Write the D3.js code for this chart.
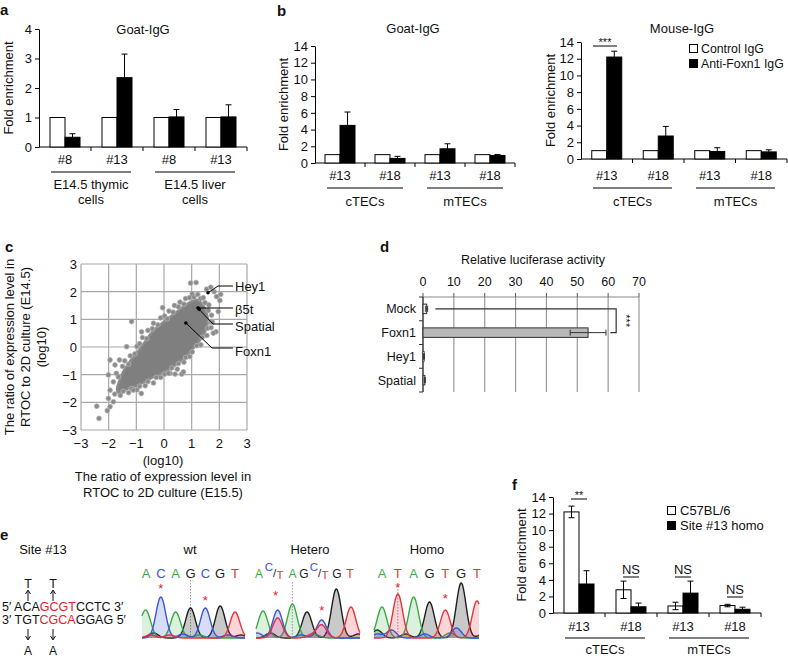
<!DOCTYPE html>
<html><head><meta charset="utf-8">
<script src="https://cdn.jsdelivr.net/npm/d3@7"></script>
<style>body{margin:0;background:#fff}</style>
</head><body><svg id="c" width="788" height="659" xmlns="http://www.w3.org/2000/svg"></svg>
<script>
// ---------------- DATA ----------------
// Panel a
const aCategories = ["#8", "#13", "#8", "#13"];
const aGroups = [["E14.5 thymic", "cells"], ["E14.5 liver", "cells"]];
const aControl = [1, 1, 1, 1];
const aFoxn1 = [0.33, 2.35, 1.02, 1.02];
const aFoxn1Err = [0.12, 0.8, 0.25, 0.41];
const aTicks = [0, 1, 2, 3, 4];
// Panel b
const bCategories = ["#13", "#18", "#13", "#18"];
const bGroups = [["cTECs"], ["mTECs"]];
const bGoatControl = [1, 1, 1, 1];
const bGoatFoxn1 = [4.5, 0.55, 1.7, 0.9];
const bGoatFoxn1Err = [1.6, 0.25, 0.6, 0.12];
const bMouseControl = [1, 1, 1, 1];
const bMouseFoxn1 = [12.2, 2.75, 0.9, 0.85];
const bMouseFoxn1Err = [0.7, 1.15, 0.45, 0.25];
const bTicks = [0, 2, 4, 6, 8, 10, 12, 14];
const bLegend = ["Control IgG", "Anti-Foxn1 IgG"];
// Panel c
const cTicks = [-3, -2, -1, 0, 1, 2, 3];
const cCloudOutline = [[-1.7,-1.55],[-1.6,-1.2],[-1.45,-0.85],[-1.25,-0.55],[-1.0,-0.25],[-0.75,0.1],[-0.5,0.45],[-0.25,0.72],[0.05,0.95],[0.35,1.18],[0.65,1.42],[0.95,1.62],[1.2,1.7],[1.42,1.5],[1.55,1.2],[1.58,0.85],[1.48,0.55],[1.3,0.25],[1.05,-0.05],[0.78,-0.35],[0.48,-0.6],[0.18,-0.82],[-0.15,-0.98],[-0.45,-1.12],[-0.75,-1.28],[-1.05,-1.42],[-1.35,-1.52],[-1.6,-1.68]];
const cPoints = [
 [-1.72,-0.95],[-1.5,-0.7],[-1.42,-0.5],[-1.28,-0.62],[-1.22,-0.32],[-1.05,-0.25],[-0.98,0.02],[-0.88,0.12],[-0.78,0.34],[-0.62,0.3],[-0.58,0.6],[-0.42,0.66],[-0.38,0.86],[-0.22,0.8],[-0.12,1.05],[0.02,1.12],[0.12,1.02],[0.18,1.3],[0.33,1.26],[0.38,1.5],[0.52,1.45],[0.58,1.62],[0.72,1.55],[0.78,1.75],[0.92,1.78],[1.02,1.92],[1.08,1.8],[1.22,1.9],[1.32,1.75],[1.42,1.78],[1.48,1.6],[1.62,1.52],[1.6,1.32],[1.72,1.15],
 [1.68,0.9],[1.58,0.68],[1.55,0.42],[1.38,0.35],[1.33,0.08],[1.18,0.05],[1.02,-0.18],[0.93,-0.35],[0.78,-0.38],[0.72,-0.55],[0.52,-0.6],[0.48,-0.8],[0.28,-0.76],[0.22,-0.95],[0.02,-0.98],[-0.12,-1.1],[-0.28,-1.1],[-0.38,-1.3],[-0.58,-1.25],[-0.68,-1.4],[-0.88,-1.42],[-0.98,-1.55],[-1.18,-1.5],[-1.28,-1.65],[-1.48,-1.6],[-1.58,-1.75],[-1.78,-1.7],
 [0.96,2.31],[1.16,2.33],[1.54,2.09],[1.69,2.16],[1.81,2.0],[1.9,1.82],[2.02,1.68],[2.05,1.9],[1.96,1.28],[1.88,0.55],[1.78,0.5],[-1.17,0.92],[-0.81,0.55],[-1.35,0.01],[-1.95,-0.47],[-1.77,-0.65],[-1.61,-0.47],[-2.01,-1.01],[-1.83,-1.26],[-1.65,-1.08],[-1.95,-1.56],[-2.01,-1.86],[-1.83,-1.98],[-1.95,-2.16],[-2.43,-2.14],[-2.35,-2.58],[-2.05,-2.3],[0.4,-0.98],[0.64,-0.98],[-0.82,-1.68],[-1.11,-1.56],[0.16,-0.95],[0.7,-0.9],[-0.05,1.42],[1.75,0.9],[1.7,0.7]
];
const cGenes = ["Hey1", "β5t", "Spatial", "Foxn1"];
const cGeneX = [1.59, 1.23, 1.27, 0.79];
const cGeneY = [1.96, 1.41, 1.36, 0.87];
// Panel d
const dCategories = ["Mock", "Foxn1", "Hey1", "Spatial"];
const dValues = [1.2, 53.5, 0.35, 0.6];
const dErr = [0.3, 5.8, 0.1, 0.15];
const dTicks = [0, 10, 20, 30, 40, 50, 60, 70];
// Panel e
const eSeq5 = ["5′ ACA", "GCGT", "CCTC 3′"];
const eSeq3 = ["3′ TGT", "CGCA", "GGAG 5′"];
const eWtBases = ["A", "C", "A", "G", "C", "G", "T"];
const eHeteroBases = ["A", "C/T", "A", "G", "C/T", "G", "T"];
const eHomoBases = ["A", "T", "A", "G", "T", "G", "T"];
// peaks: [base position, height]
const eWtPeaks = {
  A: [[0, 26], [2, 26], [3.6, 3], [-0.4, 4]],
  C: [[1, 41], [2.5, 4], [4, 30], [5.5, 3]],
  G: [[0.5, 5], [3, 30], [5, 32], [6.4, 3]],
  T: [[0.3, 3], [1.6, 3], [6, 26]]
};
const eHeteroPeaks = {
  A: [[0, 27], [2, 34], [3.5, 4]],
  C: [[1, 28], [4, 18], [-0.4, 5], [2.6, 3]],
  G: [[0.5, 5], [3, 26], [5, 49], [6.5, 4]],
  T: [[1, 20], [4, 13], [6, 31], [3.3, 3]]
};
const eHomoPeaks = {
  A: [[0, 31], [2, 41], [4.3, 5]],
  C: [[0.6, 8], [4.7, 10], [2.7, 4], [-0.3, 4]],
  G: [[-0.3, 8], [3, 36], [1.5, 4], [5, 55], [6.4, 4]],
  T: [[1, 44], [4, 28], [6, 37]]
};
// Panel f
const fCategories = ["#13", "#18", "#13", "#18"];
const fGroups = [["cTECs"], ["mTECs"]];
const fWild = [12.2, 2.8, 0.85, 0.9];
const fWildErr = [0.7, 1.05, 0.45, 0.15];
const fHomo = [3.5, 0.75, 2.4, 0.45];
const fHomoErr = [1.6, 0.45, 1.45, 0.25];
const fSig = ["**", "NS", "NS", "NS"];
const fLegend = ["C57BL/6", "Site #13 homo"];
const fTicks = [0, 2, 4, 6, 8, 10, 12, 14];

// ---------------- DRAWING ----------------
const FONT = '"Liberation Sans", Arial, Helvetica, sans-serif';
const FS = 13;
const svg = d3.select("#c").attr("font-family", FONT);

function txt(g, x, y, s, opt = {}) {
  const t = g.append("text").attr("x", x).attr("y", y).text(s)
    .attr("font-size", opt.size || FS).attr("fill", opt.fill || "#111")
    .attr("text-anchor", opt.anchor || "middle");
  if (opt.weight) t.attr("font-weight", opt.weight);
  if (opt.rotate) t.attr("transform", `rotate(${opt.rotate},${x},${y})`);
  return t;
}

function barPanel(o) {
  const g = svg.append("g");
  const y = d3.scaleLinear().domain([0, o.ticks[o.ticks.length - 1]]).range([o.yb, o.yt]);
  const xb = d3.scaleBand().domain(d3.range(o.cats.length)).range([o.x0, o.x1]);
  const bw = xb.bandwidth();
  const xs = d3.scaleBand().domain(["ctrl", "treat"]).range([bw / 2 - 15, bw / 2 + 15]);
  const ax = g.append("g").attr("transform", `translate(${o.x0},0)`)
    .call(d3.axisLeft(y).tickValues(o.ticks).tickFormat(d3.format("d")).tickSize(4).tickSizeOuter(0).tickPadding(3));
  ax.attr("font-family", FONT).attr("font-size", FS);
  ax.selectAll("text").attr("fill", "#111");
  g.append("line").attr("x1", o.x0).attr("x2", o.x1).attr("y1", y(0)).attr("y2", y(0)).attr("stroke", "#000");
  g.selectAll(".xt").data(d3.range(o.cats.length)).join("line")
    .attr("x1", i => xb(i) + bw).attr("x2", i => xb(i) + bw)
    .attr("y1", y(0)).attr("y2", y(0) + 4).attr("stroke", "#000");
  const series = [["ctrl", o.ctrl, o.ctrlErr, "#fff"], ["treat", o.treat, o.treatErr, "#000"]];
  series.forEach(([k, vals, errs, fill]) => {
    g.selectAll(".b" + k).data(vals).join("rect")
      .attr("x", (d, i) => xb(i) + xs(k)).attr("width", xs.bandwidth())
      .attr("y", d => y(d)).attr("height", d => y(0) - y(d))
      .attr("fill", fill).attr("stroke", "#000").attr("stroke-width", 1);
    vals.forEach((v, i) => {
      const e = errs ? errs[i] : 0;
      if (!e) return;
      const cx = xb(i) + xs(k) + xs.bandwidth() / 2;
      const lo = k === "ctrl" ? v - e : v;
      g.append("line").attr("x1", cx).attr("x2", cx).attr("y1", y(lo)).attr("y2", y(v + e)).attr("stroke", "#000");
      g.append("line").attr("x1", cx - 3).attr("x2", cx + 3).attr("y1", y(v + e)).attr("y2", y(v + e)).attr("stroke", "#000");
      if (k === "ctrl") g.append("line").attr("x1", cx - 3).attr("x2", cx + 3).attr("y1", y(lo)).attr("y2", y(lo)).attr("stroke", "#000");
    });
  });
  g.selectAll(".cl").data(o.cats).join("text")
    .attr("x", (d, i) => xb(i) + bw / 2).attr("y", o.catY).text(d => d)
    .attr("text-anchor", "middle").attr("font-size", FS).attr("fill", "#111");
  o.groups.forEach((lab, gi) => {
    const s = xb(gi * 2), e = xb(gi * 2 + 1) + bw;
    g.append("line").attr("x1", s + 12).attr("x2", e - 12).attr("y1", o.lineY).attr("y2", o.lineY).attr("stroke", "#000");
    lab.forEach((l, li) => txt(g, (s + e) / 2, o.groupY + li * 15, l));
  });
  if (o.title) txt(g, o.titleX, o.titleY, o.title);
  txt(g, o.ylabX, (o.yb + o.yt) / 2, "Fold enrichment", { rotate: -90 });
  return { g, y, xb, xs };
}

// ---- Panel a
txt(svg, 0, 15, "a", { anchor: "start", weight: "bold", size: 15 });
barPanel({ x0: 39, x1: 247, yb: 147, yt: 29, ticks: aTicks, cats: aCategories, ctrl: aControl, ctrlErr: null,
  treat: aFoxn1, treatErr: aFoxn1Err, groups: aGroups, catY: 164, lineY: 172, groupY: 189,
  title: "Goat-IgG", titleX: 143, titleY: 34, ylabX: 13 });

// ---- Panel b
txt(svg, 277, 16, "b", { anchor: "start", weight: "bold", size: 15 });
barPanel({ x0: 315, x1: 515, yb: 163, yt: 46, ticks: bTicks, cats: bCategories, ctrl: bGoatControl, ctrlErr: null,
  treat: bGoatFoxn1, treatErr: bGoatFoxn1Err, groups: bGroups, catY: 180, lineY: 188, groupY: 206,
  title: "Goat-IgG", titleX: 413, titleY: 33, ylabX: 288 });
const bm = barPanel({ x0: 581, x1: 787, yb: 159, yt: 42, ticks: bTicks, cats: bCategories, ctrl: bMouseControl, ctrlErr: null,
  treat: bMouseFoxn1, treatErr: bMouseFoxn1Err, groups: bGroups, catY: 180, lineY: 188, groupY: 206,
  title: "Mouse-IgG", titleX: 682, titleY: 33, ylabX: 555 });
bm.g.append("line").attr("x1", 593).attr("x2", 617).attr("y1", 46).attr("y2", 46).attr("stroke", "#000");
txt(bm.g, 605, 46, "***", { size: 11 });
bLegend.forEach((l, i) => {
  svg.append("rect").attr("x", 689.5).attr("y", 44.5 + i * 15).attr("width", 8).attr("height", 8)
    .attr("fill", i ? "#000" : "#fff").attr("stroke", "#000");
  txt(svg, 701, 53 + i * 15, l, { anchor: "start", size: 12.3 });
});

// ---- Panel c
txt(svg, 5, 252, "c", { anchor: "start", weight: "bold", size: 15 });
{
  const g = svg.append("g");
  const x = d3.scaleLinear().domain([-3, 3]).range([81, 247]);
  const y = d3.scaleLinear().domain([-3, 3]).range([430, 264]);
  g.selectAll(".gx").data(cTicks).join("line").attr("x1", d => x(d)).attr("x2", d => x(d))
    .attr("y1", y(-3)).attr("y2", y(3)).attr("stroke", "#a8a8a8").attr("stroke-width", 1.2);
  g.selectAll(".gy").data(cTicks).join("line").attr("y1", d => y(d)).attr("y2", d => y(d))
    .attr("x1", x(-3)).attr("x2", x(3)).attr("stroke", "#a8a8a8").attr("stroke-width", 1.2);
  g.selectAll(".tx").data(cTicks).join("text").attr("x", d => x(d)).attr("y", 448)
    .text(d => d < 0 ? "−" + Math.abs(d) : d).attr("text-anchor", "middle").attr("font-size", 13).attr("fill", "#111");
  g.selectAll(".ty").data(cTicks).join("text").attr("x", 77).attr("y", d => y(d) + 5)
    .text(d => d < 0 ? "−" + Math.abs(d) : d).attr("text-anchor", "end").attr("font-size", 13).attr("fill", "#111");
  g.append("path").datum(cCloudOutline)
    .attr("d", d3.line().x(d => x(d[0])).y(d => y(d[1])).curve(d3.curveCatmullRomClosed))
    .attr("fill", "#7f7f7f").attr("stroke", "#8a8a8a").attr("stroke-width", 2.5);
  g.selectAll(".pt").data(cPoints).join("circle").attr("cx", d => x(d[0])).attr("cy", d => y(d[1])).attr("r", 2.4)
    .attr("fill", "#8a8a8a").attr("stroke", "#b0b0b0").attr("stroke-width", 0.8);
  const lab = [[235, 291], [235, 314], [235, 331], [235, 356]];
  const elbow = [[218, 286], null, [213, 324], [212, 348]];
  const lineY = [286, 309, 324, 348];
  cGenes.forEach((n, i) => {
    const px = x(cGeneX[i]), py = y(cGeneY[i]);
    const pts = [[px, py]];
    if (elbow[i]) pts.push(elbow[i]);
    pts.push([lab[i][0] - 2, lineY[i]]);
    if (!elbow[i]) pts[1] = [lab[i][0] - 2, py];
    g.append("path").attr("d", d3.line()(pts)).attr("fill", "none").attr("stroke", "#000").attr("stroke-width", 1);
    g.append("circle").attr("cx", px).attr("cy", py).attr("r", 1.8).attr("fill", "#000");
    txt(g, lab[i][0], lab[i][1], n, { anchor: "start", size: 13 });
  });
  ["The ratio of expression level in", "RTOC to 2D culture (E14.5)", "(log10)"].forEach((l, i) =>
    txt(g, 14 + i * 16, 347, l, { rotate: -90 }));
  ["(log10)", "The ratio of expression level in", "RTOC to 2D culture (E15.5)"].forEach((l, i) =>
    txt(g, 163, 465 + i * 16, l));
}

// ---- Panel d
txt(svg, 380, 252, "d", { anchor: "start", weight: "bold", size: 15 });
{
  const g = svg.append("g");
  const x = d3.scaleLinear().domain([0, 70]).range([423, 639]);
  const y = d3.scaleBand().domain(dCategories).range([297, 392]);
  const bw = y.bandwidth();
  g.selectAll(".gr").data(dTicks).join("line").attr("x1", d => x(d)).attr("x2", d => x(d))
    .attr("y1", 297).attr("y2", 392).attr("stroke", "#9a9a9a").attr("stroke-width", 1.2);
  g.append("line").attr("x1", x(0)).attr("x2", x(70)).attr("y1", 297).attr("y2", 297).attr("stroke", "#8a8a8a").attr("stroke-width", 1.2);
  g.selectAll(".tk").data(dTicks).join("line").attr("x1", d => x(d)).attr("x2", d => x(d))
    .attr("y1", 293).attr("y2", 297).attr("stroke", "#555");
  g.selectAll(".tl").data(dTicks).join("text").attr("x", d => x(d)).attr("y", 286).text(d => d)
    .attr("text-anchor", "middle").attr("font-size", 12.5).attr("fill", "#111");
  txt(g, 533, 264, "Relative luciferase activity", { size: 12.5 });
  g.append("line").attr("x1", x(0)).attr("x2", x(0)).attr("y1", 297).attr("y2", 392).attr("stroke", "#333").attr("stroke-width", 1.2);
  g.selectAll(".ct").data(d3.range(dCategories.length + 1)).join("line")
    .attr("x1", x(0) - 4).attr("x2", x(0)).attr("y1", i => 297 + i * bw).attr("y2", i => 297 + i * bw).attr("stroke", "#333");
  g.selectAll(".cl").data(dCategories).join("text").attr("x", 416).attr("y", d => y(d) + bw / 2 + 4.5).text(d => d)
    .attr("text-anchor", "end").attr("font-size", 12.5).attr("fill", "#111");
  g.selectAll(".bar").data(dCategories).join("rect")
    .attr("x", x(0)).attr("y", d => y(d) + bw * 0.3).attr("height", bw * 0.4)
    .attr("width", (d, i) => x(dValues[i]) - x(0))
    .attr("fill", (d, i) => i === 1 ? "#b8b8b8" : "#e8e8e8").attr("stroke", "#333").attr("stroke-width", 1);
  dCategories.forEach((c, i) => {
    const cy = y(c) + bw / 2, a = x(dValues[i] - dErr[i]), b = x(dValues[i] + dErr[i]);
    g.append("line").attr("x1", a).attr("x2", b).attr("y1", cy).attr("y2", cy).attr("stroke", "#333");
    [a, b].forEach(v => g.append("line").attr("x1", v).attr("x2", v).attr("y1", cy - 3).attr("y2", cy + 3).attr("stroke", "#333"));
  });
  const my = y("Mock") + bw / 2, fy = y("Foxn1") + bw / 2;
  g.append("path").attr("d", `M${x(4)},${my}H${x(62.6)}V${fy}H${x(60.7)}`).attr("fill", "none").attr("stroke", "#333").attr("stroke-width", 1.2);
  txt(g, x(64.5), (my + fy) / 2, "***", { size: 11, rotate: 90 });
}

// ---- Panel e
txt(svg, 0, 540, "e", { anchor: "start", weight: "bold", size: 15 });
{
  const g = svg.append("g");
  txt(g, 43, 554, "Site #13", { size: 13 });
  const red = "#e8202a";
  [[eSeq5, 611], [eSeq3, 624]].forEach(([parts, yy]) => {
    const t = g.append("text").attr("x", 2).attr("y", yy).attr("font-size", 12.5).attr("fill", "#111");
    parts.forEach((p, i) => t.append("tspan").text(p).attr("fill", i === 1 ? red : "#111"));
  });
  [28, 53].forEach(xx => {
    txt(g, xx, 588, "T", { size: 12.5 });
    txt(g, xx, 655, "A", { size: 12 });
    g.append("path").attr("d", `M${xx},601V591M${xx - 2.5},594L${xx},590L${xx + 2.5},594`).attr("fill", "none").attr("stroke", "#111");
    g.append("path").attr("d", `M${xx},629V639M${xx - 2.5},636L${xx},640L${xx + 2.5},636`).attr("fill", "none").attr("stroke", "#111");
  });
  const col = { A: "#3aaa45", C: "#3a55d8", G: "#1e1e1e", T: "#e5333b" };
  const fillc = { A: "rgba(58,170,69,0.18)", C: "rgba(58,85,216,0.2)", G: "rgba(60,60,60,0.28)", T: "rgba(229,51,59,0.2)" };
  function chrom(o) {
    const xs = d3.scaleLinear().domain([0, 6]).range([o.p0, o.p6]);
    const ys = d3.scaleLinear().domain([0, 60]).range([638, 578]);
    const sig = 4.8;
    txt(g, o.titleX, 554, o.title, { size: 13 });
    g.append("line").attr("x1", xs(o.dotted)).attr("x2", xs(o.dotted)).attr("y1", o.dotTop).attr("y2", 638)
      .attr("stroke", "#999").attr("stroke-dasharray", "1.5,1.5");
    const samples = d3.range(o.xa, o.xb + 0.01, 0.5);
    ["G", "A", "C", "T"].forEach(b => {
      const pk = o.peaks[b];
      const pts = samples.map(px => [px, pk.reduce((s, [p, h]) => s + h * Math.exp(-((px - xs(p)) ** 2) / (2 * sig * sig)), 0)]);
      g.append("path").attr("d", d3.area().x(d => d[0]).y0(ys(0)).y1(d => ys(d[1]))(pts)).attr("fill", fillc[b]);
      g.append("path").attr("d", d3.line().x(d => d[0]).y(d => ys(d[1]))(pts)).attr("fill", "none")
        .attr("stroke", col[b]).attr("stroke-width", 1.4);
    });
    o.bases.forEach((b, i) => {
      const lx = o.letterX ? o.letterX[i] : xs(i);
      if (b.length === 1) { txt(g, lx, 578, b, { size: o.fs, fill: col[b] }); return; }
      // heterozygous call: superscript C, slash, T — placed as separate glyphs
      txt(g, lx - 6, 571, "C", { size: 11.5, fill: col.C });
      txt(g, lx - 0.5, 577, "/", { size: 11.5, fill: "#222" });
      txt(g, lx + 5, 579, "T", { size: 11.5, fill: col.T });
    });
    o.stars.forEach(([p, yy]) => txt(g, xs(p), yy + 8, "*", { size: 13, fill: red }));
  }
  chrom({ title: "wt", titleX: 190, p0: 146, p6: 235, xa: 142, xb: 245, peaks: eWtPeaks, bases: eWtBases, dotted: 3, dotTop: 580, stars: [[1, 585], [4, 597]], fs: 13 });
  chrom({ title: "Hetero", titleX: 310, p0: 263, p6: 351, xa: 256, xb: 360, peaks: eHeteroPeaks, bases: eHeteroBases, dotted: 2, dotTop: 582, stars: [[0.85, 592], [4, 607]], fs: 12,
    letterX: [259, 275, 292.5, 304, 320, 337, 350] });
  chrom({ title: "Homo", titleX: 427, p0: 382, p6: 477, xa: 374, xb: 479, peaks: eHomoPeaks, bases: eHomoBases, dotted: 1, dotTop: 586, stars: [[1, 584], [4, 595]], fs: 13 });
}

// ---- Panel f
txt(svg, 512, 490, "f", { anchor: "start", weight: "bold", size: 15 });
const fp = barPanel({ x0: 553, x1: 761, yb: 613, yt: 497, ticks: fTicks, cats: fCategories, ctrl: fWild, ctrlErr: fWildErr,
  treat: fHomo, treatErr: fHomoErr, groups: fGroups, catY: 631, lineY: 638, groupY: 654, title: null, ylabX: 526 });
{
  const sigY = [499, 577, 577, 597];
  fSig.forEach((s, i) => {
    const cx = fp.xb(i) + fp.xb.bandwidth() / 2;
    fp.g.append("line").attr("x1", cx - 8).attr("x2", cx + 8).attr("y1", sigY[i]).attr("y2", sigY[i]).attr("stroke", "#000");
    txt(fp.g, cx, sigY[i] - (s === "NS" ? 3 : 0), s, { size: s === "NS" ? 13 : 11 });
  });
  fLegend.forEach((l, i) => {
    svg.append("rect").attr("x", 667.5).attr("y", 506.5 + i * 15).attr("width", 8).attr("height", 8)
      .attr("fill", i ? "#000" : "#fff").attr("stroke", "#000");
    txt(svg, 680, 515 + i * 15, l, { anchor: "start" });
  });
}
</script></body></html>
